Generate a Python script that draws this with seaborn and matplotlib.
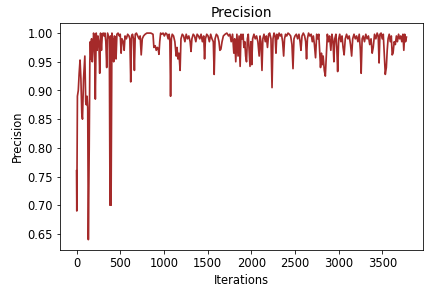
import pandas as pd
import seaborn as sns
import matplotlib.pyplot as plt

# Values (iteration, precision)
iterations = [
    0, 3, 10, 20, 30, 40, 50, 60, 68, 80, 95, 105, 112, 120, 128, 135, 145, 152, 158, 165,
    172, 180, 188, 195, 205, 215, 225, 235, 245, 255, 265, 275, 285, 295, 305, 315, 325, 335, 345, 355,
    365, 375, 383, 390, 395, 405, 415, 425, 435, 445, 452, 462, 475, 490, 500,
    510, 520, 535, 545, 555, 570, 585, 600, 610, 620, 630, 640, 652, 662, 672, 685, 700, 715, 728, 740,
    752, 767, 785, 805, 825, 850, 875, 885, 900, 912, 925, 935, 943, 952, 962, 975, 990,
    1005, 1020, 1035, 1048, 1060, 1068, 1076, 1085, 1095, 1110, 1125, 1140, 1150, 1160, 1172, 1185, 1195,
    1210, 1225, 1240, 1255, 1270, 1285, 1300, 1310, 1320, 1335, 1350, 1365, 1380, 1395, 1410, 1425, 1440,
    1455, 1465, 1475, 1490,
    1505, 1520, 1535, 1550, 1565, 1575, 1585, 1600, 1615, 1630, 1640, 1652, 1665, 1680, 1700, 1720, 1740,
    1755, 1770, 1785, 1800, 1810, 1822, 1835, 1848, 1860, 1872, 1882, 1895, 1905, 1915, 1925, 1935, 1945,
    1955, 1965, 1975, 1985, 1995,
    2005, 2015, 2030, 2045, 2060, 2075, 2090, 2100, 2110, 2122, 2132, 2145, 2160, 2172, 2185, 2198, 2210,
    2225, 2237, 2248, 2260, 2272, 2282, 2292, 2305, 2318, 2332, 2345, 2358, 2370, 2380, 2392, 2405, 2420,
    2435, 2450, 2465, 2477, 2488, 2500,
    2515, 2530, 2545, 2558, 2568, 2580, 2595, 2610, 2622, 2632, 2642, 2655, 2670, 2685, 2698, 2710, 2722,
    2735, 2748, 2760, 2772, 2782, 2792, 2802, 2812, 2822, 2835, 2847, 2858, 2870, 2882, 2895, 2910, 2922,
    2935, 2945, 2955, 2968, 2978, 2988, 3000,
    3012, 3025, 3038, 3050, 3062, 3075, 3090, 3105, 3120, 3135, 3148, 3160, 3175, 3190, 3205, 3220, 3235,
    3248, 3257, 3268, 3280, 3295, 3310, 3325, 3340, 3355, 3370, 3383, 3395, 3410, 3425, 3440, 3452, 3462,
    3472, 3485, 3498, 3510, 3522, 3533, 3545, 3555, 3565, 3578, 3590, 3602, 3612, 3622, 3635, 3648, 3660,
    3672, 3685, 3698, 3710, 3722, 3735, 3745, 3755, 3765, 3775,
]

precision = [
    0.76, 0.69, 0.89, 0.90, 0.93, 0.953, 0.92, 0.86, 0.85, 0.92, 0.96, 0.88, 0.875, 0.89, 0.87, 0.64, 0.80, 0.95, 0.985, 0.955,
    0.99, 0.95, 0.97, 1.0, 0.99, 0.885, 1.0, 0.97, 0.995, 0.985, 0.93, 1.0, 0.97, 0.998, 1.0, 0.995, 1.0, 0.985, 0.94, 1.0,
    0.995, 0.99, 0.70, 0.995, 0.70, 1.0, 0.99, 0.95, 0.995, 0.99, 0.955, 0.998, 1.0, 0.995, 0.998,
    0.965, 0.99, 0.985, 0.97, 0.995, 0.99, 0.998, 0.995, 0.99, 0.915, 0.995, 0.998, 0.99, 0.935, 0.998, 1.0, 0.995, 0.99, 0.995, 0.962,
    0.99, 0.995, 0.998, 1.0, 1.0, 1.0, 0.998, 0.975, 0.978, 0.97, 0.975, 0.972, 0.963, 0.985, 1.0, 0.998, 1.0,
    0.995, 1.0, 0.998, 0.99, 0.998, 0.985, 0.89, 0.99, 0.998, 0.995, 0.985, 0.96, 0.975, 0.955, 0.965, 0.935, 0.99,
    0.998, 0.995, 0.985, 0.998, 0.99, 0.995, 0.985, 0.968, 0.99, 0.998, 0.995, 0.985, 0.998, 0.995, 0.99, 0.998, 0.985,
    0.995, 0.955, 0.99, 0.998,
    0.995, 0.985, 0.998, 0.99, 0.985, 0.928, 0.99, 0.998, 0.995, 0.985, 0.97, 0.972, 0.985, 0.995, 0.998, 1.0, 0.995,
    0.998, 0.985, 0.998, 0.965, 0.99, 0.95, 0.998, 0.96, 0.995, 0.942, 0.998, 0.99, 0.998, 0.975, 0.985, 0.96, 0.95,
    0.99, 0.998, 0.97, 0.942, 0.985,
    0.945, 0.99, 0.998, 0.99, 0.995, 0.985, 0.96, 0.995, 0.985, 0.935, 0.99, 0.998, 0.985, 0.995, 0.975, 0.998, 1.0,
    0.99, 0.905, 0.99, 1.0, 0.995, 0.965, 0.998, 0.99, 1.0, 0.995, 0.998, 0.985, 0.96, 0.99, 0.998, 0.995, 1.0,
    0.998, 0.995, 0.98, 0.938, 0.99, 0.995,
    0.998, 0.99, 0.998, 0.985, 0.97, 0.995, 1.0, 0.995, 0.985, 0.955, 0.99, 1.0, 0.995, 0.998, 0.985, 0.995, 0.98,
    0.957, 0.998, 0.99, 0.998, 0.97, 0.94, 0.965, 0.945, 0.96, 0.935, 0.925, 0.96, 0.998, 0.985, 0.995, 0.97, 0.998,
    0.985, 0.95, 0.99, 0.998, 0.975, 0.933, 0.99,
    0.998, 0.985, 0.995, 0.975, 0.962, 0.99, 0.998, 0.99, 0.995, 0.98, 0.96, 0.99, 0.998, 0.99, 0.995, 0.985, 0.998,
    0.97, 0.93, 0.99, 0.995, 0.985, 0.998, 0.99, 0.995, 0.98, 0.99, 0.965, 0.975, 0.998, 0.99, 1.0, 0.995, 0.948,
    0.998, 1.0, 0.99, 0.998, 0.96, 0.928, 0.94, 0.97, 0.99, 0.998, 0.985, 0.995, 0.962, 0.965, 0.985, 0.98, 0.995,
    0.985, 0.998, 0.99, 0.995, 0.985, 0.998, 0.97, 0.998, 0.985, 0.993,
]


def plot_precision(df):
    plt.rcParams['font.size'] = 11.5
    fig = plt.figure(figsize=(6, 4.03), dpi=72)
    ax = fig.add_axes([0.139, 0.138, 0.840, 0.783])
    sns.lineplot(data=df, x='iteration', y='precision', color='brown',
                 linewidth=1.7, estimator=None, sort=False, ax=ax)
    ax.set_title('Precision')
    ax.set_xlabel('Iterations')
    ax.set_ylabel('Precision')
    fig.savefig('out.png', dpi=72)
    plt.close(fig)


def main():
    df = pd.DataFrame({'iteration': iterations, 'precision': precision})
    plot_precision(df)


if __name__ == "__main__":
    main()
